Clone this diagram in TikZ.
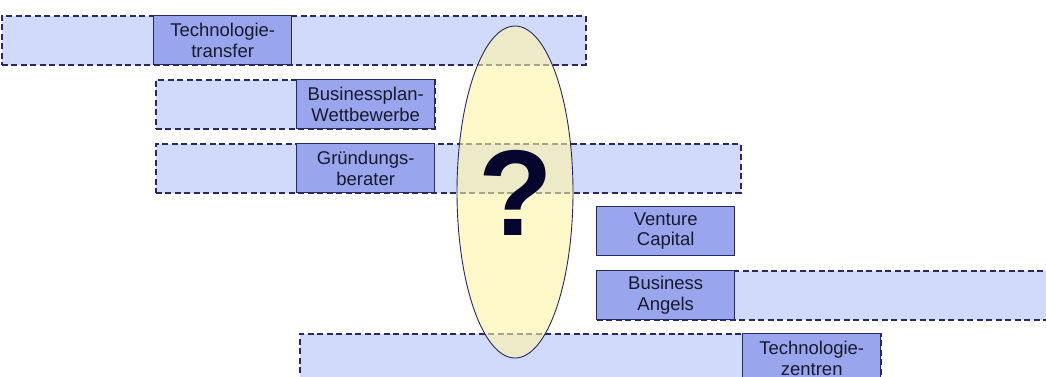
\documentclass[tikz,border=0pt]{standalone}
\usepackage{fontspec}
\setmainfont{Liberation Sans}
\usetikzlibrary{shapes.geometric}

\definecolor{navy}{RGB}{38,42,96}
\definecolor{bandfill}{RGB}{210,218,252}
\definecolor{boxfill}{RGB}{153,166,238}
\definecolor{paleyellow}{RGB}{255,245,165}
\definecolor{qmark}{RGB}{5,5,45}
\definecolor{txt}{RGB}{25,25,45}

\tikzset{
  band/.style={draw=navy, dash pattern=on 6pt off 3.5pt, line width=1.5pt,
    fill=bandfill, anchor=north west, minimum height=49pt, inner sep=0pt},
  org/.style={draw=navy, line width=1.4pt, fill=boxfill, anchor=north west,
    minimum width=138pt, minimum height=49pt, inner sep=0pt, align=center,
    text=txt, font=\fontsize{18.5}{20.5}\selectfont},
}

\begin{document}
\begin{tikzpicture}[x=1pt,y=-1pt]
                \useasboundingbox (0,0) rectangle (1046,376);

                % Technologietransfer
                \node[band, minimum width=584pt] (ttband) at (1,15) {};
                \node[org] (tt) at (153,15) {Technologie-\\transfer};

                % Businessplan-Wettbewerbe
                \node[band, minimum width=279pt] (bpband) at (155,79) {};
                \node[org] (bp) at (296,79) {Businessplan-\\Wettbewerbe};

                % Gruendungsberater
                \node[band, minimum width=585pt] (gbband) at (155,143) {};
                \node[org] (gb) at (296,143) {Gründungs-\\berater};

                % Venture Capital
                \node[org] (vc) at (596,206) {Venture\\Capital};

                % Business Angels
                \node[band, minimum width=460pt] (baband) at (596,270) {};
                \node[org] (ba) at (596,270) {Business\\Angels};

                % Technologiezentren
                \node[band, minimum width=581pt] (tzband) at (299,333) {};
                \node[org] (tz) at (742,333) {Technologie-\\zentren};

                % Luecke
                \node[ellipse, draw=navy, line width=0.9pt, fill=paleyellow,
                  fill opacity=0.6, minimum width=116pt, minimum height=332pt,
                  inner sep=0pt] (gap) at (515,192) {};
                \node[text=qmark, inner sep=0pt,
                  font=\fontsize{122}{122}\selectfont\bfseries] (q) at (516,193) {?};
\end{tikzpicture}
\end{document}
